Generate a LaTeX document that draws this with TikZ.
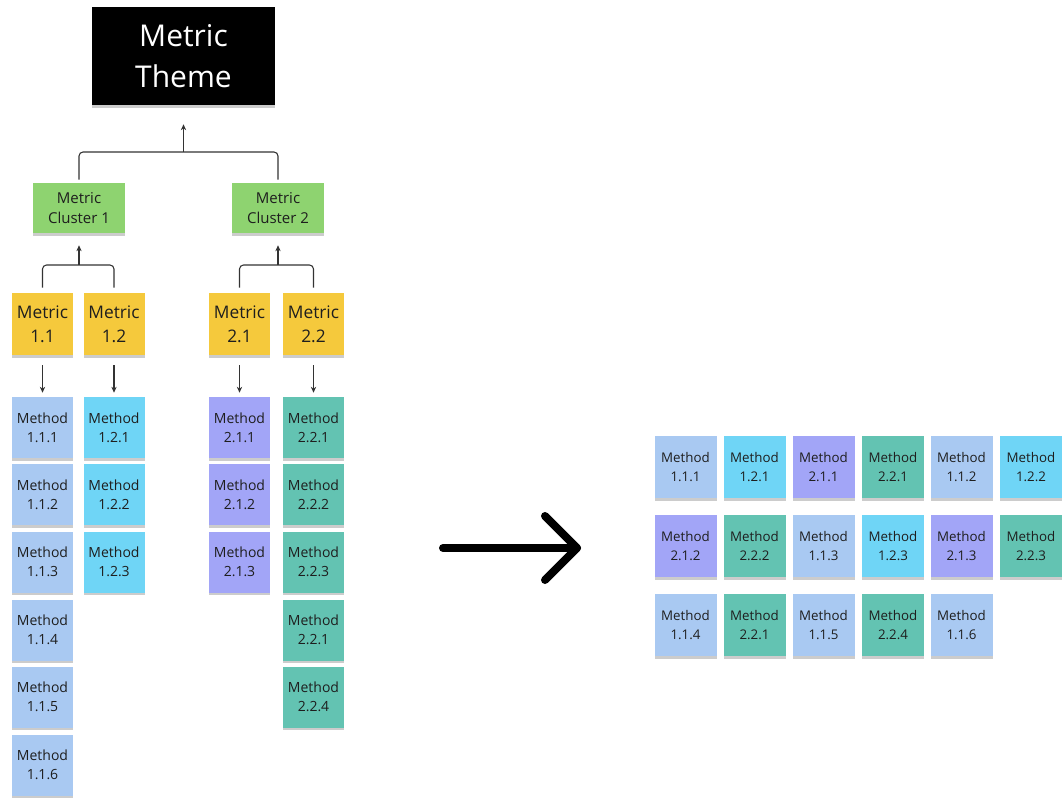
\documentclass[tikz,border=0pt]{standalone}
\usepackage{fontspec}
\setmainfont{Open Sans}
\usetikzlibrary{shadows,arrows.meta}
\definecolor{cyellow}{HTML}{F5C93C}
\definecolor{cgreen}{HTML}{8ED370}
\definecolor{cA}{HTML}{A9C9F2}
\definecolor{cB}{HTML}{6FD5F6}
\definecolor{cC}{HTML}{A2A5F7}
\definecolor{cD}{HTML}{63C3B2}
\definecolor{ctext}{HTML}{1E1E1E}
\tikzset{
  note/.style={inner sep=0pt, align=center, text=ctext,
    drop shadow={shadow xshift=0pt, shadow yshift=-2.2pt, opacity=0.2, fill=black}},
  theme/.style={note, fill=black, text=white, minimum width=183*0.75pt, minimum height=98*0.75pt,
    font=\fontsize{22.5}{30.5}\selectfont},
  cluster/.style={note, fill=cgreen, minimum width=92*0.75pt, minimum height=50*0.75pt,
    font=\fontsize{11.25}{15.5}\selectfont},
  metric/.style={note, fill=cyellow, minimum width=61*0.75pt, minimum height=62*0.75pt,
    font=\fontsize{13}{18}\selectfont},
  meth/.style={note, minimum width=61*0.75pt, minimum height=61*0.75pt,
    font=\fontsize{10.5}{14.5}\selectfont},
  gmeth/.style={note, minimum width=62*0.75pt, minimum height=62*0.75pt,
    font=\fontsize{10}{14}\selectfont},
  conn/.style={draw=black!80, line width=0.8pt, rounded corners=3pt},
  tip/.style={-{Stealth[length=4.5pt,width=4pt]}},
  bigarrow/.style={line width=6pt, line cap=round, line join=round},
}
\begin{document}
\begin{tikzpicture}[x=0.75pt,y=-0.75pt]
\useasboundingbox (0,0) rectangle (1062,798);

% theme and clusters
\node[theme] (theme) at (183.5,56) {Metric\\Theme};
\node[cluster] (cl1) at (79,208) {Metric\\Cluster 1};
\node[cluster] (cl2) at (278,208) {Metric\\Cluster 2};

% metrics
\node[metric] (m11) at (42.5,324) {Metric\\1.1};
\node[metric] (m12) at (114,324) {Metric\\1.2};
\node[metric] (m21) at (239.5,324) {Metric\\2.1};
\node[metric] (m22) at (313.5,324) {Metric\\2.2};

% left methods
\foreach \i/\y in {1/427.5,2/494.5,3/562,4/630,5/697,6/765}
  \node[meth, fill=cA] (a\i) at (42.5,\y) {Method\\1.1.\i};
\foreach \i/\y in {1/427.5,2/494.5,3/562}
  \node[meth, fill=cB] (b\i) at (114,\y) {Method\\1.2.\i};
\foreach \i/\y in {1/427.5,2/494.5,3/562}
  \node[meth, fill=cC] (c\i) at (239.5,\y) {Method\\2.1.\i};
\foreach \i/\t/\y in {1/1/427.5,2/2/494.5,3/3/562,4/1/630,5/4/697}
  \node[meth, fill=cD] (d\i) at (313.5,\y) {Method\\2.2.\t};

% connectors
\coordinate (j0) at (183.5,152);
\coordinate (j1) at (79,265);
\coordinate (j2) at (278,265);
\draw[conn] ([yshift=3*0.75pt]cl1.north) |- (j0) -| ([yshift=3*0.75pt]cl2.north);
\draw[conn,tip,shorten >=19*0.75pt] (j0) -- (theme.south);
\draw[conn] ([yshift=5*0.75pt]m11.north) |- (j1) -| ([yshift=5*0.75pt]m12.north);
\draw[conn,tip,shorten >=12*0.75pt] (j1) -- (cl1.south);
\draw[conn] ([yshift=5*0.75pt]m21.north) |- (j2) -| ([yshift=5*0.75pt]m22.north);
\draw[conn,tip,shorten >=12*0.75pt] (j2) -- (cl2.south);
\draw[conn,tip,shorten <=10*0.75pt,shorten >=4*0.75pt] (m11.south) -- (a1.north);
\draw[conn,tip,shorten <=10*0.75pt,shorten >=4*0.75pt] (m12.south) -- (b1.north);
\draw[conn,tip,shorten <=10*0.75pt,shorten >=4*0.75pt] (m21.south) -- (c1.north);
\draw[conn,tip,shorten <=10*0.75pt,shorten >=4*0.75pt] (m22.south) -- (d1.north);

% big arrow
\coordinate (ba) at (443,548);
\coordinate (bb) at (577,548);
\coordinate (bu) at (545,516);
\coordinate (bd) at (545,580);
\draw[bigarrow] (ba) -- (bb);
\draw[bigarrow] (bu) -- (bb) -- (bd);

% right grid
\node[gmeth, fill=cA] (g11) at (685.5,467) {Method\\1.1.1};
\node[gmeth, fill=cB] (g12) at (754.5,467) {Method\\1.2.1};
\node[gmeth, fill=cC] (g13) at (823.5,467) {Method\\2.1.1};
\node[gmeth, fill=cD] (g14) at (893,467) {Method\\2.2.1};
\node[gmeth, fill=cA] (g15) at (961.5,467) {Method\\1.1.2};
\node[gmeth, fill=cB] (g16) at (1031,467) {Method\\1.2.2};
\node[gmeth, fill=cC] (g21) at (685.5,546) {Method\\2.1.2};
\node[gmeth, fill=cD] (g22) at (754.5,546) {Method\\2.2.2};
\node[gmeth, fill=cA] (g23) at (823.5,546) {Method\\1.1.3};
\node[gmeth, fill=cB] (g24) at (893,546) {Method\\1.2.3};
\node[gmeth, fill=cC] (g25) at (961.5,546) {Method\\2.1.3};
\node[gmeth, fill=cD] (g26) at (1031,546) {Method\\2.2.3};
\node[gmeth, fill=cA] (g31) at (685.5,625) {Method\\1.1.4};
\node[gmeth, fill=cD] (g32) at (754.5,625) {Method\\2.2.1};
\node[gmeth, fill=cA] (g33) at (823.5,625) {Method\\1.1.5};
\node[gmeth, fill=cD] (g34) at (893,625) {Method\\2.2.4};
\node[gmeth, fill=cA] (g35) at (961.5,625) {Method\\1.1.6};
\end{tikzpicture}
\end{document}
